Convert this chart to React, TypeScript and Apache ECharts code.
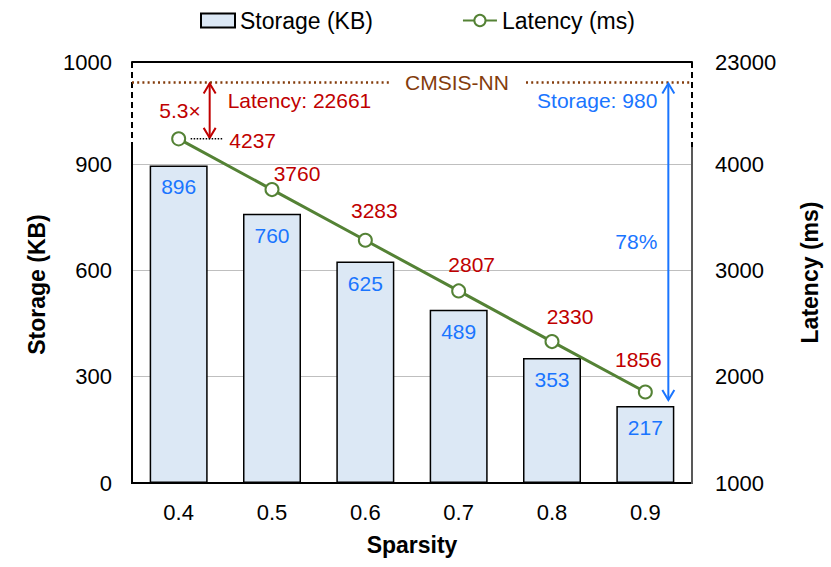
import React, { useEffect, useRef } from "react";
import * as echarts from "echarts";

// ---- data ----
const categories = ["0.4", "0.5", "0.6", "0.7", "0.8", "0.9"];
const storageKB = [896, 760, 625, 489, 353, 217];
const latencyMs = [4237, 3760, 3283, 2807, 2330, 1856];
const baselineName = "CMSIS-NN";
const baselineStorageKB = 980;
const baselineLatencyMs = 22661;
const leftTickLabels = [0, 300, 600, 900, 1000];
const rightTickLabels = [1000, 2000, 3000, 4000, 23000];

// ---- layout / broken-axis mapping ----
const W = 831;
const H = 567;
const GRID = { left: 132, right: 139, top: 62, bottom: 84 };
const LEFT_BREAK = 900; // storage axis is linear up to here
const LEFT_TOP_LIN = 1188; // linear position of the top of the plot
const LEFT_TOP_SHOWN = leftTickLabels[leftTickLabels.length - 1];
const RIGHT_MIN = rightTickLabels[0];
const RIGHT_TOP_LIN = RIGHT_MIN + LEFT_TOP_LIN * ((rightTickLabels[3] - RIGHT_MIN) / LEFT_BREAK);

const toLeft = (v: number) =>
  v <= LEFT_BREAK ? v : LEFT_BREAK + ((v - LEFT_BREAK) * (LEFT_TOP_LIN - LEFT_BREAK)) / (LEFT_TOP_SHOWN - LEFT_BREAK);

const FONT = "Liberation Sans, Arial, Helvetica, sans-serif";
const RED = "#c00000";
const BLUE = "#1a75ff";
const BROWN = "#843c0c";
const GREEN = "#548235";
const BAR_W = 58;

const latencyLabelOffsets = [
  [74, 2],
  [25, -16],
  [9, -30],
  [13, -26],
  [18, -25],
  [-7, -32],
];

export default function App() {
  const ref = useRef<HTMLDivElement>(null);

  useEffect(() => {
    if (!ref.current) return;
    const chart = echarts.init(ref.current, null, { renderer: "svg", width: W, height: H });

    const option: any = {
      animation: false,
      backgroundColor: "#fff",
      textStyle: { fontFamily: FONT },
      grid: GRID,
      legend: {
        top: 9,
        left: 200,
        padding: 0,
        itemGap: 89,
        itemWidth: 34,
        itemHeight: 14,
        textStyle: { fontSize: 23, color: "#000", fontFamily: FONT },
        data: [{ name: "Storage (KB)", icon: "rect" }, { name: "Latency (ms)" }],
      },
      xAxis: [
        {
          type: "category",
          data: categories,
          position: "bottom",
          axisLine: { lineStyle: { color: "#000", width: 2 } },
          axisTick: { show: false },
          axisLabel: { fontSize: 22, color: "#000", margin: 18, fontFamily: FONT },
          name: "Sparsity",
          nameLocation: "middle",
          nameGap: 50,
          nameTextStyle: { fontSize: 23, fontWeight: "bold", color: "#000", fontFamily: FONT },
        },
        {
          type: "category",
          data: categories,
          position: "top",
          axisLine: { lineStyle: { color: "#000", width: 2 } },
          axisTick: { show: false },
          axisLabel: { show: false },
        },
      ],
      yAxis: [
        {
          type: "value",
          min: 0,
          max: LEFT_TOP_LIN,
          interval: 300,
          axisLine: { show: false },
          axisTick: { show: false },
          splitLine: { lineStyle: { color: "#bfbfbf", width: 1 } },
          axisLabel: {
            fontSize: 22,
            color: "#000",
            margin: 20,
            fontFamily: FONT,
            showMaxLabel: true,
            formatter: (v: number) =>
              v > LEFT_BREAK ? String(LEFT_TOP_SHOWN) : String(v),
          },
          name: "Storage (KB)",
          nameLocation: "middle",
          nameGap: 84,
          nameTextStyle: {
            fontSize: 23,
            fontWeight: "bold",
            color: "#000",
            fontFamily: FONT,
            padding: [0, 24, 0, 0],
          },
        },
        {
          type: "value",
          position: "right",
          min: RIGHT_MIN,
          max: RIGHT_TOP_LIN,
          interval: 1000,
          axisLine: { show: false },
          axisTick: { show: false },
          splitLine: { show: false },
          axisLabel: {
            fontSize: 22,
            color: "#000",
            margin: 23,
            fontFamily: FONT,
            showMaxLabel: true,
            formatter: (v: number) =>
              v > rightTickLabels[3] ? String(rightTickLabels[4]) : String(v),
          },
          name: "Latency (ms)",
          nameLocation: "middle",
          nameGap: 106,
          nameTextStyle: { fontSize: 23, fontWeight: "bold", color: "#000", fontFamily: FONT },
        },
      ],
      series: [
        {
          type: "bar",
          name: "Storage (KB)",
          yAxisIndex: 0,
          barWidth: BAR_W,
          data: storageKB.map(toLeft),
          itemStyle: { color: "#dce8f5", borderColor: "#000", borderWidth: 1.5 },
          label: {
            show: true,
            position: "insideTop",
            distance: 11,
            color: BLUE,
            fontSize: 21,
            fontFamily: FONT,
            formatter: (p: any) => String(storageKB[p.dataIndex]),
          },
        },
        {
          type: "line",
          name: "Latency (ms)",
          yAxisIndex: 1,
          data: latencyMs.map((v, i) => ({
            value: v,
            label: { offset: latencyLabelOffsets[i] },
          })),
          symbol: "emptyCircle",
          symbolSize: 13,
          lineStyle: { color: GREEN, width: 3 },
          itemStyle: { color: GREEN, borderColor: GREEN, borderWidth: 3 },
          label: {
            show: true,
            position: "inside",
            color: RED,
            fontSize: 21,
            fontFamily: FONT,
          },
          z: 5,
        },
      ],
    };

    chart.setOption(option);

    // ---- annotations placed through the chart's own scales ----
    const xOf = (i: number) => chart.convertToPixel({ xAxisIndex: 0 }, categories[i]) as number;
    const yL = (v: number) => chart.convertToPixel({ yAxisIndex: 0 }, toLeft(v)) as number;
    const yR = (v: number) => chart.convertToPixel({ yAxisIndex: 1 }, v) as number;

    const xLeft = GRID.left;
    const xRight = W - GRID.right;
    const yTop = GRID.top;
    const yBottom = H - GRID.bottom;
    const yBreak = yL(LEFT_BREAK) - 17;
    const yBase = yL(baselineStorageKB);

    const font = (size: number, weight = "normal") => ({
      fontSize: size,
      fontFamily: FONT,
      fontWeight: weight,
    });
    const line = (x1: number, y1: number, x2: number, y2: number, style: any) => ({
      type: "line",
      z: 100,
      shape: { x1, y1, x2, y2 },
      style: { lineWidth: 2, ...style },
      silent: true,
    });
    const chevron = (x: number, y: number, dir: 1 | -1, color: string) => ({
      type: "polyline",
      z: 100,
      shape: {
        points: [
          [x - 6, y + dir * 11],
          [x, y + dir * 1],
          [x + 6, y + dir * 11],
        ],
      },
      style: { stroke: color, fill: "none", lineWidth: 2 },
      silent: true,
    });
    const text = (t: string, x: number, y: number, color: string, align: string, size = 21) => ({
      type: "text",
      z: 100,
      x,
      y,
      style: { text: t, fill: color, align, verticalAlign: "middle", ...font(size) },
      silent: true,
    });

    // speedup and reduction, computed from data
    const speedup = (baselineLatencyMs / latencyMs[0]).toFixed(1) + "×";
    const reduction = Math.round((1 - storageKB[storageKB.length - 1] / baselineStorageKB) * 100) + "%";

    const xRed = xOf(0) + BAR_W / 2 + 2;
    const yP0 = yR(latencyMs[0]);
    const xBlue = xOf(categories.length - 1) + 23;
    const yBarLast = yL(storageKB[storageKB.length - 1]) - 5;

    const graphic: any[] = [
      // frame with broken-axis dashes
      line(xLeft, yBreak, xLeft, yBottom + 1, { stroke: "#000" }),
      line(xLeft, yTop, xLeft, yBreak, { stroke: "#000", lineDash: [6, 4] }),
      line(xRight, yBreak, xRight, yBottom + 1, { stroke: "#595959" }),
      line(xRight, yTop, xRight, yBreak, { stroke: "#000", lineDash: [6, 4] }),
      // CMSIS-NN baseline
      line(xLeft, yBase, 390, yBase, { stroke: BROWN, lineWidth: 2.5, lineDash: [2, 3.2] }),
      line(526, yBase, xRight, yBase, { stroke: BROWN, lineWidth: 2.5, lineDash: [2, 3.2] }),
      text(baselineName, 457, yBase, BROWN, "center"),
      // latency comparison (red)
      line(xRed, yBase + 1, xRed, yP0 - 1, { stroke: RED }),
      chevron(xRed, yBase, 1, RED),
      chevron(xRed, yP0, -1, RED),
      text(speedup, xRed - 9, (yBase + yP0) / 2, RED, "right"),
      text("Latency: " + baselineLatencyMs, xRed + 18, yBase + 18, RED, "left"),
      line(xOf(0) + 12, yP0, xRed + 14, yP0, { stroke: "#000", lineWidth: 1.5, lineDash: [1.5, 1.5] }),
      // storage comparison (blue)
      line(xBlue, yBase + 1, xBlue, yBarLast - 1, { stroke: BLUE }),
      chevron(xBlue, yBase, 1, BLUE),
      chevron(xBlue, yBarLast, -1, BLUE),
      text("Storage: " + baselineStorageKB, xBlue - 11, yBase + 18, BLUE, "right"),
      text(reduction, xBlue - 11, (yBase + yBarLast) / 2, BLUE, "right"),
    ];

    chart.setOption({ graphic });

    return () => chart.dispose();
  }, []);

  return (
    <div
      ref={ref}
      style={{ position: "fixed", left: 0, top: 0, width: W, height: H, background: "#fff" }}
    />
  );
}
